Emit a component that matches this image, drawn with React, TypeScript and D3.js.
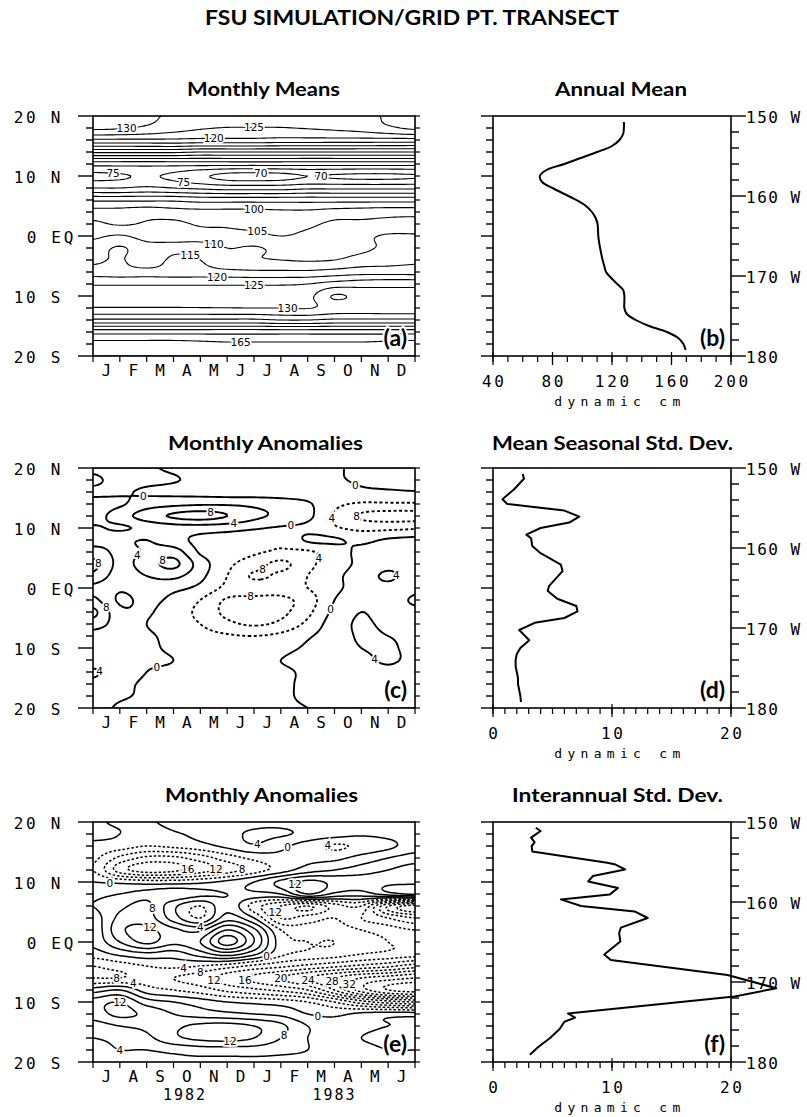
import React, { useMemo } from 'react';
import * as d3 from 'd3';

// ---------------- data ----------------
const TITLE = 'FSU SIMULATION/GRID PT. TRANSECT';
const LEFT_TITLES = ['Monthly Means', 'Monthly Anomalies', 'Monthly Anomalies'];
const RIGHT_TITLES = ['Annual Mean', 'Mean Seasonal Std. Dev.', 'Interannual Std. Dev.'];
const LEFT_TAGS = ['(a)', '(c)', '(e)'];
const RIGHT_TAGS = ['(b)', '(d)', '(f)'];
const MONTHS_CLIM = ['J', 'F', 'M', 'A', 'M', 'J', 'J', 'A', 'S', 'O', 'N', 'D'];
const MONTHS_8283 = ['J', 'A', 'S', 'O', 'N', 'D', 'J', 'F', 'M', 'A', 'M', 'J'];
const YEARS = ['1982', '1983'];
const YEAR_POS = [3.43, 9.0];
const LAT_TICKS = [20, 10, 0, -10, -20];
const LAT_LABELS = ['20 N', '10 N', '0 EQ', '10 S', '20 S'];
const LON_TICKS = [150, 160, 170, 180];
const LON_LABELS = ['150 W', '160 W', '170 W', '180'];
const X_UNIT = 'dynamic cm';

// grid rows: latitude 20N .. 20S every 2 degrees; columns: month boundaries 0..12
const meansGrid = [
  [132, 132, 131, 129, 127, 127, 127, 127, 127, 128, 129, 130.5, 132],
  [131, 130.5, 129, 127, 125.5, 124.8, 124.8, 124.8, 125.3, 126, 127, 129, 131],
  [119, 119, 119, 119, 118.5, 118.5, 118.5, 118, 118, 118, 118, 118, 118],
  [101, 101, 101, 101, 100, 100, 100, 100, 100, 100, 100, 100, 100],
  [82, 82, 82, 82, 82, 82, 82, 82, 82, 82, 82, 82, 82],
  [74, 74.5, 75.5, 74, 71, 68.5, 68, 68.5, 70, 69.5, 69, 69, 69.5],
  [80, 80, 81, 80, 79, 78, 78, 78, 79, 79, 79, 79, 79],
  [94, 94, 94, 94, 93, 93, 93, 93, 93, 93, 93, 93, 93],
  [102, 102, 103, 102, 101.5, 101.5, 101.5, 101, 101, 102, 102.5, 103, 103],
  [106, 104.5, 105.5, 106, 104.5, 104.5, 104, 103.5, 104, 106, 106, 106.5, 107],
  [109, 110.5, 108, 107, 107, 106, 106, 105, 106, 108, 109, 110.5, 110.5],
  [112.5, 115.5, 112, 113, 113, 110, 110.5, 108.5, 107, 108, 109, 111, 112],
  [114, 115.5, 112, 116, 115, 111, 110.5, 110, 109.5, 110, 112, 113, 114],
  [117.5, 117, 117, 117, 117, 116.5, 116, 116, 116, 117, 118, 118, 118],
  [124.5, 124.5, 124.5, 124.5, 124.5, 124.5, 124.5, 124.5, 125, 127, 128, 128.5, 128.5],
  [127.5, 127.5, 127.5, 127.5, 127.5, 127.5, 127.5, 127.5, 128.5, 135.5, 133, 131.5, 131.5],
  [130.3, 130.3, 130.3, 130.3, 130.2, 130.1, 130, 130, 129.7, 132, 132, 131.5, 131.5],
  [141, 141, 141, 141, 141, 141, 141, 140, 140, 141, 141, 141, 141],
  [158, 158, 158, 158, 158, 158, 158, 158, 158, 158, 158, 158, 158],
  [167, 167, 167, 167, 166.5, 166, 166, 166, 166, 166, 166, 166.5, 167],
  [170, 170, 170, 170, 170, 170, 170, 170, 170, 170, 170, 170, 170],
];

const seasonalAnomGrid = [
  [1, 1.5, 0.5, -0.5, -1, -1, -1, -1, -1, -0.5, 1, 1.5, 1.5],
  [-0.8, 1.5, 1, 0.3, -1, -1.5, -1.5, -1.5, -1.5, -0.5, 0.5, 1, 1],
  [0.8, 0.5, -0.5, -1, -1.5, -2, -2, -2, -2, -1.5, -0.8, -0.5, -0.2],
  [-1.5, -0.5, 2, 3, 3.5, 3.5, 3, 2, 0.5, -3, -4.5, -4.5, -4.5],
  [-1.5, 2, 6, 8.5, 9.5, 8, 5, 3, 1, -4.5, -8.5, -9.5, -9.5],
  [0.5, -0.5, 1, 2, 2, 1.5, 0.5, -0.5, -1, -3.5, -5, -5, -4.5],
  [2, 3, 4, 1.5, -1, -2, -3, -3.5, 0.5, 0.5, -1, 0.5, 1],
  [6, 3, 4.5, 6, -0.5, -2, -3.5, -4.5, -4.5, -2, 1, 2, 0.5],
  [9, 3, 6, 9, 2, -3, -6, -9, -5, -2, 1, 3, 2],
  [7, 2, 4, 5, 1, -4, -8.5, -7, -4, -1, 2, 4.5, 2],
  [3, 0.5, 2, 1, -1, -5, -6, -6, -4, -1, 2, 3, 1],
  [5, -0.5, 1, -1, -4, -8.5, -9, -9, -6, 0, 3, 2, -0.5],
  [9, 1, 0.5, -2, -5, -9, -10, -9, -5, 1, 4, 2, 1],
  [6, 2, 0, -2, -4, -7, -8.5, -7, -3, 2, 4.5, 3, 2],
  [2, 1.5, 0.5, -1, -2.5, -3.5, -4, -3, -0.5, 2, 4.5, 4, 3],
  [0.5, 1, 0.5, -0.5, -1.5, -2, -2, -1, 0.5, 2, 4, 4.5, 3],
  [2, 1, 0.5, 0, -1, -1, -1, 0, 1, 2, 3, 4.5, 3],
  [4.5, 2, 0, -0.5, -1, -1, -1, -0.5, 0.5, 1.5, 2.5, 3, 2],
  [3, 1, -0.5, -1, -1, -1, -1, -0.5, 0.5, 1, 2, 2, 1],
  [2, 0.5, -0.5, -1, -1, -1, -1, -0.5, 0.5, 1, 1, 1, 0.5],
  [1.5, -0.5, -1, -1, -1, -1, -1, -0.5, 0, 0.5, 0.5, 0.5, 0],
];

const interAnomGrid = [
  [0.5, -0.5, -0.5, 1, 1, 2, 3, 3, 2, 1, 1, 0.5, 1],
  [1, 0, -2, -0.5, 1, 3, 4.5, 4.5, 3, 1.5, 0.5, 1, 2],
  [-1, -2, -4, -3, -1.5, 1, 3.5, 1, -2, -4.5, -3, -1, 2],
  [-3, -9, -13, -13, -10, -6, -3, -1, -1, -1, 1.5, 4, 6],
  [-4, -14, -18, -17, -14, -10, -6, -2, 2, 4, 6, 8, 10],
  [0, -1, -2, -2, -1, 1, 4, 9, 13, 11, 10, 11, 11],
  [3, 4, 6, 7, 5, 4, 3, 4, 12, 7, 6, 10, 13],
  [4, 7, 9, 1, -4, 3, -6, -12, -16, -10, -8, -24, -30],
  [2, 9, 10, 2, -4, 6, 0, -12, -10, -8, -12, -16, -20],
  [1, 11, 13, 9, 7, 16, 9, -4, -6, -6, -8, -10, -12],
  [1, 8, 13, 9, 12, 22, 12, -2, -4, -4, -6, -8, -9],
  [-2, 1, 3, 2, 6, 10, 5, -3, -5, -6, -8, -9, -10],
  [-8, -6, -4, -3, -4, -6, -9, -11, -13, -15, -17, -19, -22],
  [-8, -8, -6, -8, -10, -14, -17, -20, -24, -28, -32, -34, -36],
  [2, 4, -2, -4, -6, -9, -11, -13, -16, -24, -34, -40, -42],
  [10, 12, 6, 4, 2, 0, -1, -2, -4, -8, -14, -18, -20],
  [10, 13, 11, 8, 6, 5, 4, 3, 0, -1, 1, 2, 2],
  [6, 8, 9, 11, 13, 13.5, 12, 9, 4, 2, 3, 4, 5],
  [4, 5, 7, 11, 13, 13.5, 12, 8, 4, 3, 4, 5, 6],
  [3, 4, 4, 5, 6, 6, 6, 5, 4, 3, 3, 4, 4],
  [2, 3, 3, 3, 3, 3, 3, 3, 3, 2, 2, 3, 3],
];

const meansLevels = d3.range(65, 171, 5);
const seasonalLevels = d3.range(-12, 13, 4);
const interLevels = d3.range(-44, 25, 4);

type Lbl = { v: number; m: number; lat: number };
const meansLabels: Lbl[] = [
  { v: 130, m: 1.2, lat: 17.4 }, { v: 125, m: 6, lat: 18.2 }, { v: 120, m: 4.5, lat: 16.4 },
  { v: 75, m: 0.8, lat: 10.6 }, { v: 75, m: 3.4, lat: 9.5 }, { v: 70, m: 6.3, lat: 10 },
  { v: 70, m: 8.5, lat: 10.3 }, { v: 100, m: 6, lat: 4.3 }, { v: 105, m: 6.1, lat: 1.5 },
  { v: 110, m: 4.4, lat: -4 }, { v: 115, m: 3.6, lat: -2.8 }, { v: 120, m: 4.6, lat: -6.8 },
  { v: 125, m: 6, lat: -8.2 }, { v: 130, m: 7.2, lat: -12.4 }, { v: 165, m: 5.5, lat: -17.4 },
];
const seasonalLabels: Lbl[] = [
  { v: 0, m: 1.9, lat: 15.3 }, { v: 8, m: 4.4, lat: 12.5 }, { v: 4, m: 5.3, lat: 11.3 },
  { v: 0, m: 7.4, lat: 11.5 }, { v: -4, m: 8.4, lat: 12 }, { v: -8, m: 9.6, lat: 12 },
  { v: 0, m: 9.8, lat: 17.6 }, { v: 4, m: 1.5, lat: 6 }, { v: 8, m: 2.5, lat: 5 },
  { v: 8, m: 0.2, lat: 4.2 }, { v: -8, m: 6.4, lat: 2.8 }, { v: -4, m: 8.4, lat: 5 },
  { v: -8, m: 5.9, lat: -2.5 }, { v: 8, m: 0.5, lat: -3.2 }, { v: 0, m: 8.8, lat: -3.5 },
  { v: 4, m: 11.3, lat: 2.2 }, { v: 4, m: 10.7, lat: -10.8 }, { v: 4, m: 0.4, lat: -13.3 },
  { v: 0, m: 2.5, lat: -14.8 },
];
const interLabels: Lbl[] = [
  { v: 4, m: 6.2, lat: 15.3 }, { v: 0, m: 7.3, lat: 15.7 }, { v: -4, m: 8.8, lat: 15.8 },
  { v: -16, m: 3.9, lat: 12.3 }, { v: -12, m: 4.9, lat: 12.3 }, { v: -8, m: 5.6, lat: 12.3 },
  { v: 0, m: 0.6, lat: 9.2 }, { v: 12, m: 7.6, lat: 9.5 }, { v: 8, m: 2.2, lat: 5.8 },
  { v: 12, m: 2, lat: 1.5 }, { v: 4, m: 4, lat: 1.2 }, { v: -12, m: 6.1, lat: 4 },
  { v: 0, m: 6.3, lat: -0.5 }, { v: -4, m: 3.3, lat: -3 }, { v: -8, m: 4, lat: -5 },
  { v: -12, m: 3.9, lat: -6.7 }, { v: -16, m: 5.3, lat: -6.6 }, { v: -20, m: 6.2, lat: -5.4 },
  { v: -24, m: 7.4, lat: -6.9 }, { v: -28, m: 8.5, lat: -6.6 }, { v: -32, m: 9.3, lat: -7.0 },
  { v: -8, m: 0.9, lat: -5.8 }, { v: -4, m: 1.5, lat: -5.8 }, { v: 12, m: 1, lat: -9.3 },
  { v: 12, m: 5.1, lat: -15.2 }, { v: 8, m: 7.2, lat: -15.8 }, { v: 0, m: 8.3, lat: -13.8 },
  { v: 4, m: 1, lat: -17.7 },
];

// profiles (latitude, dynamic cm)
const annualLat = d3.range(19, -20, -1);
const annualVal = [128, 128, 127.5, 125, 120, 110, 99, 88, 76, 71.5, 73, 80, 88, 96, 102.5, 106.5, 109, 110.3, 110.6,
  110.8, 111.3, 112, 112.8, 113.7, 114.8, 116, 119.5, 123.5, 127.5, 128.3, 128.3, 128.3, 130, 136, 145, 157, 164.5, 168, 169.5];
const seasLat = [19, 18.2, 16.5, 14.8, 14, 12.9, 11.9, 10.9, 10, 8.9, 8.3, 7, 5.8, 3.9, 2.8, 0.3, -0.5, -1.8, -3, -3.9, -5,
  -5.8, -7, -8.7, -10, -11, -12, -13, -14, -15, -16, -17, -18, -19];
const seasVal = [2.5, 2.6, 1.8, 0.8, 1.2, 6.0, 7.25, 6.4, 4.0, 2.8, 3.2, 3.3, 4.0, 5.7, 5.85, 4.7, 4.6, 5.4, 7.0, 7.1, 6.0,
  3.5, 2.2, 3.05, 2.3, 2.0, 1.9, 1.9, 2.0, 2.1, 2.1, 2.2, 2.3, 2.35];
const interLat = [19.05, 18.5, 17.4, 16.6, 16, 15.1, 13.2, 12.9, 12.1, 11, 10.1, 9, 7.9, 7.1, 6, 5.1, 4, 2.4, 1.5, 0.1,
  -2.1, -3, -3.8, -5.5, -7.7, -9.1, -11.9, -12.6, -13.3, -14.5, -16, -17.5, -18.8];
const interVal = [3.6, 4.0, 3.2, 3.5, 3.25, 3.3, 9.6, 10.3, 11.1, 8.4, 8.0, 10.5, 9.8, 5.7, 7.4, 11.9, 13.0, 10.75, 10.6,
  10.7, 9.35, 9.9, 13.0, 19.7, 23.8, 20.3, 6.3, 6.9, 6.0, 5.6, 4.8, 3.8, 3.1];

// ---------------- layout ----------------
const W = 807, H = 1117;
const LX0 = 93, LX1 = 415, RX0 = 493, RX1 = 731;
const ROW_TOP = [116, 468, 822];
const PH = 240;
const MONO = '"DejaVu Sans Mono", monospace';
const BOLD = 'Lato, "Open Sans", sans-serif';

function catmull(p0: number, p1: number, p2: number, p3: number, t: number) {
  const t2 = t * t, t3 = t2 * t;
  return 0.5 * (2 * p1 + (-p0 + p2) * t + (2 * p0 - 5 * p1 + 4 * p2 - p3) * t2 + (-p0 + 3 * p1 - 3 * p2 + p3) * t3);
}
function upsample(grid: number[][], k: number) {
  const R = grid.length, C = grid[0].length;
  const nr = (R - 1) * k + 1, nc = (C - 1) * k + 1;
  const cl = (v: number, n: number) => Math.max(0, Math.min(n - 1, v));
  const rows = grid.map(row => {
    const out: number[] = [];
    for (let j = 0; j < nc; j++) {
      const x = j / k; const c = Math.min(C - 2, Math.floor(x)); const t = x - c;
      out.push(catmull(row[cl(c - 1, C)], row[c], row[c + 1], row[cl(c + 2, C)], t));
    }
    return out;
  });
  const vals: number[] = new Array(nr * nc);
  for (let i = 0; i < nr; i++) {
    const y = i / k; const r = Math.min(R - 2, Math.floor(y)); const t = y - r;
    const a = rows[cl(r - 1, R)], b = rows[r], c = rows[r + 1], d = rows[cl(r + 2, R)];
    for (let j = 0; j < nc; j++) vals[i * nc + j] = catmull(a[j], b[j], c[j], d[j], t);
  }
  return { vals, nr, nc };
}

function LatAxisLeft({ x, ys, labels }: { x: number; ys: d3.ScaleLinear<number, number>; labels: boolean }) {
  const ticks = d3.range(20, -21, -2);
  return (
    <g>
      {ticks.map(t => (
        <line key={t} x1={x - (t % 10 === 0 ? (labels ? 15 : 12) : 7)} x2={x} y1={ys(t)} y2={ys(t)} stroke="#000" strokeWidth={1.4} />
      ))}
      {labels && LAT_TICKS.map((t, i) => (
        <text key={t} x={t === 0 ? 76 : 63} y={ys(t) + 1} textAnchor="end" dominantBaseline="central"
          fontFamily={MONO} fontSize={16} letterSpacing={2.7}>{LAT_LABELS[i]}</text>
      ))}
    </g>
  );
}

function ContourPanel({ id, row, grid, levels, labels, months, sw, dash, years }: {
  id: string; row: number; grid: number[][]; levels: number[]; labels: Lbl[]; months: string[]; sw: number; dash: string; years?: boolean;
}) {
  const y0 = ROW_TOP[row], y1 = y0 + PH;
  const xs = d3.scaleLinear().domain([0, 12]).range([LX0, LX1]);
  const ys = d3.scaleLinear().domain([20, -20]).range([y0, y1]);
  const { cs, nr, nc } = useMemo(() => {
    const u = upsample(grid, 8);
    return { cs: d3.contours().size([u.nc, u.nr]).thresholds(levels)(u.vals), nr: u.nr, nc: u.nc };
  }, [grid, levels]);
  const toPx = (p: number[]) => [xs((p[0] - 0.5) / (nc - 1) * 12), ys(20 - (p[1] - 0.5) / (nr - 1) * 40)];
  const paths = cs.map(c => ({
    v: c.value,
    d: c.coordinates.map(poly => poly.map(ring => 'M' + ring.map(p => toPx(p).map(v => v.toFixed(2)).join(',')).join('L') + 'Z').join('')).join(''),
  }));
  const placed = labels.map(l => {
    const tx = xs(l.m), ty = ys(l.lat);
    let best = [tx, ty], bd = Infinity;
    const c = cs.find(cc => cc.value === l.v);
    if (c) c.coordinates.forEach(poly => poly.forEach(ring => ring.forEach(p => {
      const [px, py] = toPx(p);
      if (px < LX0 + 6 || px > LX1 - 6 || py < y0 + 5 || py > y1 - 5) return;
      const d = (px - tx) ** 2 + (py - ty) ** 2;
      if (d < bd) { bd = d; best = [px, py]; }
    })));
    if (bd > 28 * 28) best = [tx, ty];
    return { ...l, x: best[0], y: best[1] };
  });
  const tag = LEFT_TAGS[row];
  return (
    <g>
      <defs>
        <clipPath id={id}><rect x={LX0} y={y0} width={LX1 - LX0} height={PH} /></clipPath>
      </defs>
      <g clipPath={`url(#${id})`}>
        {paths.map((p, i) => (
          <path key={i} d={p.d} fill="none" stroke="#000" strokeWidth={sw} strokeLinejoin="round"
            strokeDasharray={p.v < 0 ? dash : undefined} />
        ))}
        {placed.map((l, i) => (
          <text key={i} x={l.x} y={l.y} textAnchor="middle" dominantBaseline="central" fontFamily='"DejaVu Sans", sans-serif'
            fontSize={10.5} stroke="#fff" strokeWidth={3.5} paintOrder="stroke" fill="#000">{Math.abs(l.v)}</text>
        ))}
      </g>
      <text x={LX1 - 8} y={y1 - 10} textAnchor="end" fontFamily={BOLD} fontWeight={700} fontSize={23}
        stroke="#fff" strokeWidth={4} paintOrder="stroke">{tag}</text>
      <rect x={LX0} y={y0} width={LX1 - LX0} height={PH} fill="none" stroke="#000" strokeWidth={1.6} />
      <LatAxisLeft x={LX0} ys={ys} labels={true} />
      {d3.range(20, -21, -2).map(t => (
        <line key={t} x1={LX1} x2={LX1 + 5} y1={ys(t)} y2={ys(t)} stroke="#000" strokeWidth={1.2} />
      ))}
      {d3.range(0, 13).map(m => (
        <line key={m} x1={xs(m)} x2={xs(m)} y1={y1} y2={y1 + 6} stroke="#000" strokeWidth={1.2} />
      ))}
      {months.map((mo, i) => (
        <text key={i} x={xs(i + 0.5)} y={y1 + 14} textAnchor="middle" dominantBaseline="central"
          fontFamily={MONO} fontSize={16}>{mo}</text>
      ))}
      {years && YEARS.map((yr, i) => (
        <text key={yr} x={xs(YEAR_POS[i])} y={y1 + 33} textAnchor="middle" dominantBaseline="central"
          fontFamily={MONO} fontSize={15} letterSpacing={2}>{yr}</text>
      ))}
    </g>
  );
}

function ProfilePanel({ row, lats, vals, domain, minorStep, majorStep, curve }: {
  row: number; lats: number[]; vals: number[]; domain: [number, number]; minorStep: number; majorStep: number; curve: d3.CurveFactory;
}) {
  const y0 = ROW_TOP[row], y1 = y0 + PH;
  const xs = d3.scaleLinear().domain(domain).range([RX0, RX1]);
  const ys = d3.scaleLinear().domain([20, -20]).range([y0, y1]);
  const lon = d3.scaleLinear().domain([150, 180]).range([y0, y1]);
  const pts = lats.map((la, i) => [vals[i], la] as [number, number]);
  const line = d3.line<[number, number]>().x(d => xs(d[0])).y(d => ys(d[1])).curve(curve);
  const minor = d3.range(domain[0], domain[1] + 1e-9, minorStep);
  const major = d3.range(domain[0], domain[1] + 1e-9, majorStep);
  return (
    <g>
      <rect x={RX0} y={y0} width={RX1 - RX0} height={PH} fill="none" stroke="#000" strokeWidth={1.6} />
      <LatAxisLeft x={RX0} ys={ys} labels={false} />
      {d3.range(150, 181, 2).map(t => (
        <line key={t} x1={RX1} x2={RX1 + (t % 10 === 0 ? 15 : 8)} y1={lon(t)} y2={lon(t)} stroke="#000" strokeWidth={1.4} />
      ))}
      {LON_TICKS.map((t, i) => (
        <text key={t} x={RX1 + 15} y={lon(t) + 1} dominantBaseline="central" fontFamily={MONO} fontSize={16}
          letterSpacing={1.5}>{LON_LABELS[i]}</text>
      ))}
      {minor.map(t => (
        <line key={t} x1={xs(t)} x2={xs(t)} y1={y1} y2={y1 + 6} stroke="#000" strokeWidth={1.2} />
      ))}
      {major.map(t => (
        <line key={'M' + t} x1={xs(t)} x2={xs(t)} y1={y1 - 4} y2={y1 + 9} stroke="#000" strokeWidth={1.2} />
      ))}
      {major.map(t => (
        <text key={'L' + t} x={xs(t) + 1.3} y={y1 + 25} textAnchor="middle" dominantBaseline="central"
          fontFamily={MONO} fontSize={16} letterSpacing={2.7}>{t}</text>
      ))}
      <text x={620} y={y1 + 45} textAnchor="middle" dominantBaseline="central" fontFamily={MONO} fontSize={13}
        letterSpacing={5.3}>{X_UNIT}</text>
      <path d={line(pts) || ''} fill="none" stroke="#000" strokeWidth={2} strokeLinejoin="round" />
      <text x={RX1 - 6} y={y1 - 10} textAnchor="end" fontFamily={BOLD} fontWeight={700} fontSize={23}
        stroke="#fff" strokeWidth={4} paintOrder="stroke">{RIGHT_TAGS[row]}</text>
    </g>
  );
}

const LEFT_TITLE_POS = [{ x: 263.5, w: 153 }, { x: 265.5, w: 195 }, { x: 261.5, w: 193 }];
const RIGHT_TITLE_POS = [{ x: 621, w: 132 }, { x: 612.5, w: 241 }, { x: 617.5, w: 211 }];
const TITLE_BASE = [96, 450, 802];

export default function App() {
  return (
    <svg width={W} height={H} viewBox={`0 0 ${W} ${H}`} style={{ position: 'absolute', left: 0, top: 0, background: '#fff' }}>
      <rect x={0} y={0} width={W} height={H} fill="#fff" />
      <text x={412} y={25} textAnchor="middle" fontFamily={BOLD} fontWeight={700} fontSize={21}
        textLength={414} lengthAdjust="spacingAndGlyphs">{TITLE}</text>
      {LEFT_TITLES.map((t, i) => (
        <text key={'lt' + i} x={LEFT_TITLE_POS[i].x} y={TITLE_BASE[i]} textAnchor="middle" fontFamily={BOLD}
          fontWeight={700} fontSize={18} textLength={LEFT_TITLE_POS[i].w} lengthAdjust="spacingAndGlyphs">{t}</text>
      ))}
      {RIGHT_TITLES.map((t, i) => (
        <text key={'rt' + i} x={RIGHT_TITLE_POS[i].x} y={TITLE_BASE[i]} textAnchor="middle" fontFamily={BOLD}
          fontWeight={700} fontSize={18} textLength={RIGHT_TITLE_POS[i].w} lengthAdjust="spacingAndGlyphs">{t}</text>
      ))}
      <ContourPanel id="clipA" row={0} grid={meansGrid} levels={meansLevels} labels={meansLabels}
        months={MONTHS_CLIM} sw={1.1} dash="3,2" />
      <ContourPanel id="clipC" row={1} grid={seasonalAnomGrid} levels={seasonalLevels} labels={seasonalLabels}
        months={MONTHS_CLIM} sw={1.9} dash="3,2.5" />
      <ContourPanel id="clipE" row={2} grid={interAnomGrid} levels={interLevels} labels={interLabels}
        months={MONTHS_8283} sw={1.5} dash="2.5,2" years />
      <ProfilePanel row={0} lats={annualLat} vals={annualVal} domain={[40, 200]} minorStep={10} majorStep={40}
        curve={d3.curveCatmullRom} />
      <ProfilePanel row={1} lats={seasLat} vals={seasVal} domain={[0, 20]} minorStep={1} majorStep={10}
        curve={d3.curveLinear} />
      <ProfilePanel row={2} lats={interLat} vals={interVal} domain={[0, 20]} minorStep={1} majorStep={10}
        curve={d3.curveLinear} />
    </svg>
  );
}
